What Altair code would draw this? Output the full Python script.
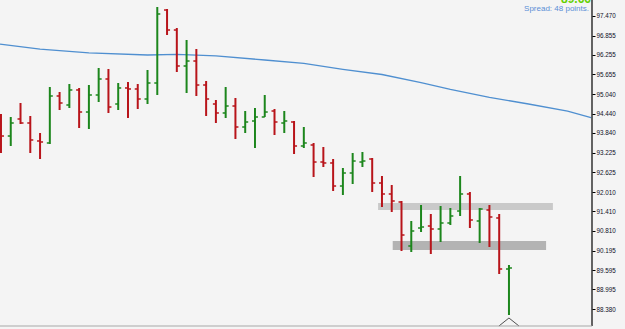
import altair as alt
import pandas as pd
import numpy as np

# ---- OHLC bars ----
bar_index = list(range(53))
opens = [94.179, 93.745, 94.272, 94.148, 93.591, 93.529, 94.984, 94.705, 95.170, 94.488,
         95.015, 95.510, 94.736, 95.232, 95.201, 94.891, 95.386, 97.646, 97.027, 95.913,
         96.067, 95.324, 94.736, 94.458, 94.674, 94.024, 94.210, 94.334, 94.519, 94.148,
         94.179, 93.436, 93.467, 92.940, 92.910, 92.197, 92.600, 92.940, 93.033, 92.290,
         91.950, 91.702, 90.340, 90.897, 90.959, 90.866, 91.052, 91.423, 91.950, 91.114,
         91.454, 91.207, 89.628]
highs = [94.427, 94.334, 94.767, 94.365, 93.838, 95.262, 95.108, 95.355, 95.232, 95.324,
         95.851, 95.820, 95.386, 95.417, 95.355, 95.789, 97.739, 97.677, 97.089, 96.718,
         96.439, 95.448, 94.860, 95.262, 94.922, 94.519, 94.612, 95.015, 94.581, 94.519,
         94.210, 94.024, 93.529, 93.405, 93.033, 92.755, 93.219, 93.250, 93.064, 92.507,
         92.228, 91.733, 91.114, 91.609, 91.331, 91.578, 91.516, 92.507, 92.012, 91.516,
         91.609, 91.331, 89.752]
lows = [93.219, 93.436, 94.117, 93.219, 93.033, 93.498, 94.550, 94.612, 93.993, 93.962,
        94.798, 94.458, 94.550, 94.303, 94.581, 94.736, 95.015, 96.872, 95.727, 95.077,
        94.984, 94.365, 94.148, 94.303, 93.653, 93.838, 93.374, 94.334, 93.776, 93.838,
        93.188, 93.374, 92.476, 92.786, 92.043, 91.919, 92.259, 92.786, 92.012, 91.547,
        91.393, 90.185, 90.154, 90.773, 90.092, 90.464, 90.990, 91.269, 90.897, 90.433,
        90.309, 89.473, 88.204]
closes = [93.745, 94.148, 94.148, 93.622, 93.560, 94.984, 94.767, 95.170, 94.488, 95.015,
          95.510, 94.643, 95.232, 95.201, 94.891, 95.386, 97.523, 97.027, 95.913, 96.067,
          95.324, 94.891, 94.458, 94.674, 94.024, 94.179, 94.334, 94.488, 94.179, 94.210,
          93.436, 93.529, 92.940, 92.910, 92.197, 92.600, 92.971, 92.971, 92.290, 91.950,
          91.733, 90.680, 90.804, 90.928, 90.866, 91.052, 91.269, 91.950, 91.145, 91.485,
          91.238, 89.628, 89.659]

# ---- moving average line ----
ma_index = [-0.1, 4, 9, 15, 18, 22, 27, 31, 35, 39, 43, 46, 50, 54, 58, 60.4]
ma_values = [96.590, 96.433, 96.321, 96.253, 96.275, 96.228, 96.098, 95.993, 95.811,
             95.649, 95.399, 95.191, 94.944, 94.736, 94.513, 94.318]

# ---- horizontal zones ----
zone_start = [38.6, 40.1]
zone_end = [56.5, 55.8]
zone_top = [91.671, 90.495]
zone_bottom = [91.454, 90.216]

# ---- arrow marker ----
arrow_index = [52]
arrow_price = [87.987]

# ---- price axis labels ----
price_labels = [97.470, 96.855, 96.255, 95.655, 95.040, 94.440, 93.840, 93.225,
                92.625, 92.010, 91.410, 90.810, 90.195, 89.595, 88.995, 88.380]

# ---- visible window of the chart (scale domains) ----
x_range = [-0.1, 60.5]
price_range = [87.863, 97.956]

spread_text = ["Spread: 48 points."]
bid_text = ["89.66"]

GREEN = "#1c861c"
RED = "#b8141a"
BG = "#f4f4f4"

df = pd.DataFrame({"i": bar_index, "open": opens, "high": highs, "low": lows, "close": closes})
df["dir"] = np.where(df["close"] >= df["open"], "up", "down")
ma = pd.DataFrame({"i": ma_index, "v": ma_values})
zones = pd.DataFrame({"s": zone_start, "e": zone_end, "t": zone_top, "b": zone_bottom, "k": ["upper", "lower"]})
arrow = pd.DataFrame({"i": arrow_index, "p": arrow_price})
frame = pd.DataFrame({"x0": [x_range[0]], "x1": [x_range[1]], "p0": [price_range[0]], "p1": [price_range[1]]})

xs = alt.Scale(domain=x_range, nice=False, zero=False)
ys = alt.Scale(domain=price_range, nice=False, zero=False)

xaxis = alt.Axis(labels=False, ticks=False, grid=False, title=None, domain=False)
yaxis = alt.Axis(orient="right", values=price_labels, format=".3f", grid=False, title=None,
                 domain=False, ticks=True, tickColor="#000000", tickSize=3, tickWidth=1,
                 labelOverlap=False, labelFont="Liberation Sans", labelFontSize=6.3,
                 labelColor="#101028", labelPadding=1, labelFlush=False, labelBound=False)

X = lambda f: alt.X(f, scale=xs, axis=xaxis)
Y = lambda f: alt.Y(f, scale=ys, axis=yaxis)

color = alt.Color("dir:N", scale=alt.Scale(domain=["up", "down"], range=[GREEN, RED]), legend=None)

zone_upper = alt.Chart(zones).transform_filter(alt.datum.k == "upper").mark_rect(color="#c9c9c9").encode(
    x=X("s:Q"), x2="e:Q", y=Y("t:Q"), y2="b:Q")
zone_lower = alt.Chart(zones).transform_filter(alt.datum.k == "lower").mark_rect(color="#b3b3b3").encode(
    x=X("s:Q"), x2="e:Q", y=Y("t:Q"), y2="b:Q")

ma_line = alt.Chart(ma).mark_line(color="#4f8fd0", strokeWidth=1.3).encode(
    x=X("i:Q"), y=Y("v:Q"))

base = alt.Chart(df)
hl = base.mark_rule(strokeWidth=2).encode(
    x=X("i:Q"), y=Y("low:Q"), y2="high:Q", color=color)
op = base.mark_rule(strokeWidth=1.5, xOffset=-3, x2Offset=0).encode(
    x=X("i:Q"), x2="i:Q", y=Y("open:Q"), color=color)
cl = base.mark_rule(strokeWidth=1.5, xOffset=0, x2Offset=3).encode(
    x=X("i:Q"), x2="i:Q", y=Y("close:Q"), color=color)

arrow_mark = alt.Chart(arrow).mark_point(
    shape="M -1 0.4 L 0 -0.4 L 1 0.4", size=400, filled=False,
    color="#505050", strokeWidth=1, opacity=1).encode(
    x=X("i:Q"), y=Y("p:Q"))

# price-axis line (right edge) and base line (bottom edge), drawn through the scales
right_line = alt.Chart(frame).mark_rule(color="#000000", strokeWidth=1.2).encode(
    x=X("x1:Q"), y=Y("p0:Q"), y2="p1:Q")
bottom_line = alt.Chart(frame).mark_rule(color="#a8a8a8", strokeWidth=1.2).encode(
    x=X("x0:Q"), x2="x1:Q", y=Y("p0:Q"))

spread = alt.Chart(pd.DataFrame({"t": spread_text})).mark_text(
    align="right", baseline="middle", font="Liberation Sans", fontSize=8,
    color="#5b8fd6").encode(text="t:N", x=alt.value(589), y=alt.value(8.5))
bid = alt.Chart(pd.DataFrame({"t": bid_text})).mark_text(
    align="right", baseline="alphabetic", font="Liberation Sans", fontSize=12,
    fontWeight="bold", color="#62d000").encode(text="t:N", x=alt.value(591), y=alt.value(2.5))

chart = alt.layer(zone_upper, zone_lower, ma_line, hl, op, cl, arrow_mark,
                  right_line, bottom_line, spread, bid).properties(
    width=592, height=326,
    padding={"left": 0, "top": 0, "right": 33, "bottom": 3},
    autosize=alt.AutoSizeParams(type="none"),
    background=BG,
).configure_view(stroke=None)

chart.save("out.html", embed_options={"renderer": "svg", "actions": False})
